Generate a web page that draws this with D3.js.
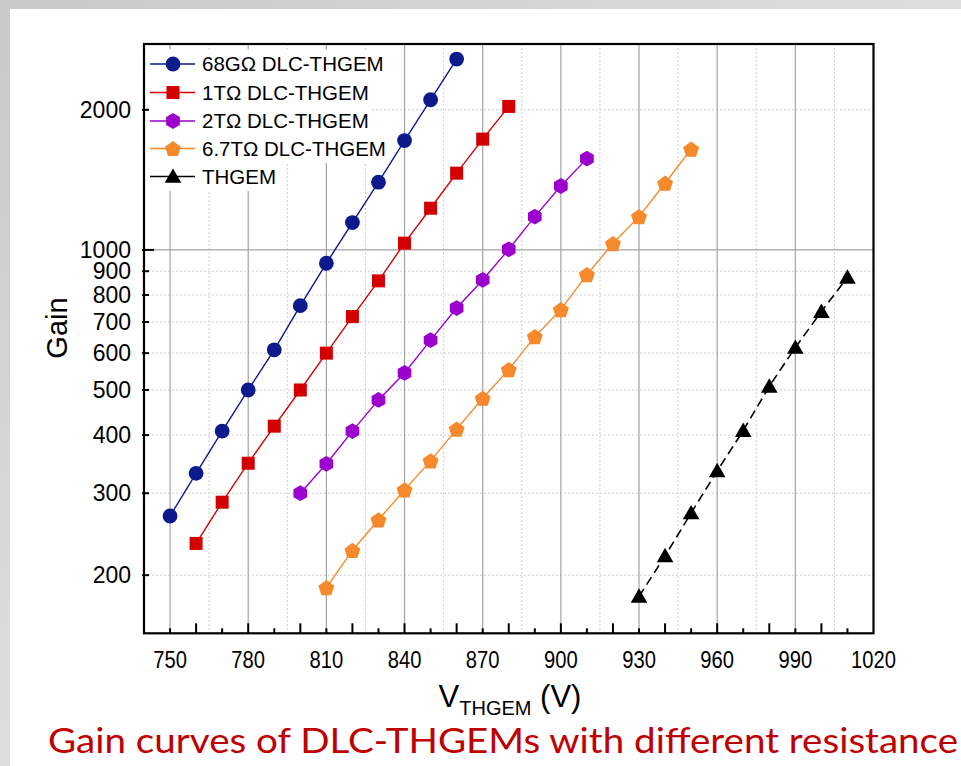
<!DOCTYPE html>
<html>
<head>
<meta charset="utf-8">
<script src="https://cdn.jsdelivr.net/npm/d3@7"></script>
<style>
  html, body { margin: 0; padding: 0; background: #ffffff; }
  svg { display: block; }
</style>
</head>
<body>
<svg id="chart" width="961" height="766"></svg>
<script>
// ---------------- data ----------------
const xTickValues = [750, 780, 810, 840, 870, 900, 930, 960, 990, 1020];
const yTickValues = [200, 300, 400, 500, 600, 700, 800, 900, 1000, 2000];

const seriesNames = ["68GΩ DLC-THGEM", "1TΩ DLC-THGEM", "2TΩ DLC-THGEM", "6.7TΩ DLC-THGEM", "THGEM"];

const volts68G = [750, 760, 770, 780, 790, 800, 810, 820, 830, 840, 850, 860];
const gain68G  = [268, 331, 408, 500, 610, 759, 936, 1145, 1398, 1718, 2102, 2571];

const volts1T = [760, 770, 780, 790, 800, 810, 820, 830, 840, 850, 860, 870, 880];
const gain1T  = [234, 287, 348, 418, 500, 600, 719, 858, 1034, 1229, 1462, 1730, 2034];

const volts2T = [800, 810, 820, 830, 840, 850, 860, 870, 880, 890, 900, 910];
const gain2T  = [300, 347, 408, 476, 544, 640, 750, 862, 1003, 1179, 1372, 1571];

const volts67T = [810, 820, 830, 840, 850, 860, 870, 880, 890, 900, 910, 920, 930, 940, 950];
const gain67T  = [188, 226, 263, 305, 352, 412, 480, 553, 651, 744, 885, 1032, 1179, 1391, 1647];

const voltsTHGEM = [930, 940, 950, 960, 970, 980, 990, 1000, 1010];
const gainTHGEM  = [180, 220, 272, 335, 409, 509, 617, 737, 873];

// ---------------- setup ----------------
const svg = d3.select("#chart");
const W = 961, H = 766;
const plot = { left: 144, right: 873.5, top: 44, bottom: 633.3 };

const x = d3.scaleLinear().domain([740, 1020]).range([plot.left, plot.right]);
const y = d3.scaleLog().domain([150, 2770]).range([plot.bottom, plot.top]);

const styles = [
  { color: "#0c1a8c", shape: "circle",   dash: null,  width: 1.4 },
  { color: "#d20000", shape: "square",   dash: null,  width: 1.4 },
  { color: "#9c00cc", shape: "hexagon",  dash: null,  width: 1.4 },
  { color: "#f5892b", shape: "pentagon", dash: null,  width: 1.4 },
  { color: "#000000", shape: "triangle", dash: "9,5", width: 1.6 }
];
const seriesData = [
  volts68G.map((v, i) => [v, gain68G[i]]),
  volts1T.map((v, i) => [v, gain1T[i]]),
  volts2T.map((v, i) => [v, gain2T[i]]),
  volts67T.map((v, i) => [v, gain67T[i]]),
  voltsTHGEM.map((v, i) => [v, gainTHGEM[i]])
];

// ---------------- background (slide) ----------------
const defs = svg.append("defs");
const grad = defs.append("linearGradient").attr("id", "bgGrad").attr("x1", 0).attr("y1", 0).attr("x2", 1).attr("y2", 1);
grad.append("stop").attr("offset", "0%").attr("stop-color", "#c9c9c9");
grad.append("stop").attr("offset", "50%").attr("stop-color", "#dedede");
grad.append("stop").attr("offset", "100%").attr("stop-color", "#cfcfcf");
svg.append("rect").attr("x", 0).attr("y", 0).attr("width", W).attr("height", H).attr("fill", "url(#bgGrad)");
svg.append("rect").attr("x", 10).attr("y", 9).attr("width", W - 10).attr("height", H - 9).attr("fill", "#ffffff");

// ---------------- grid ----------------
const grid = svg.append("g");
const minorGridX = d3.range(765, 1020, 30);
grid.selectAll("line.gxm").data(minorGridX).join("line")
  .attr("x1", d => x(d)).attr("x2", d => x(d))
  .attr("y1", plot.top).attr("y2", plot.bottom)
  .attr("stroke", "#cfcfcf").attr("stroke-width", 1).attr("stroke-dasharray", "2,2");
grid.selectAll("line.gyd").data(yTickValues.filter(d => d !== 1000)).join("line")
  .attr("x1", plot.left).attr("x2", plot.right)
  .attr("y1", d => y(d)).attr("y2", d => y(d))
  .attr("stroke", "#cfcfcf").attr("stroke-width", 1).attr("stroke-dasharray", "2,2");
grid.selectAll("line.gxM").data(xTickValues.filter(d => d < 1020)).join("line")
  .attr("x1", d => x(d)).attr("x2", d => x(d))
  .attr("y1", plot.top).attr("y2", plot.bottom)
  .attr("stroke", "#a3a3a3").attr("stroke-width", 1.2);
grid.append("line")
  .attr("x1", plot.left).attr("x2", plot.right)
  .attr("y1", y(1000)).attr("y2", y(1000))
  .attr("stroke", "#a3a3a3").attr("stroke-width", 1.2);

// ---------------- legend backgrounds (over grid) ----------------
const legend = svg.append("g");
const legendRowY = [64, 92.5, 121, 148.5, 176.5];
const legendText = [];
seriesNames.forEach((name, i) => {
  const bg = legend.append("rect").attr("fill", "#ffffff");
  const t = legend.append("text")
    .attr("x", 202).attr("y", legendRowY[i])
    .attr("dy", "0.35em")
    .attr("font-family", "Liberation Sans, Arial, sans-serif")
    .attr("font-size", 20.5)
    .attr("fill", "#000")
    .text(name);
  const w = t.node().getComputedTextLength();
  bg.attr("x", plot.left + 1).attr("y", legendRowY[i] - 14.5).attr("width", 202 + w + 3 - plot.left - 1).attr("height", 29);
  legendText.push(t);
});
legendText.forEach(t => t.raise());

// ---------------- marker helper ----------------
function polygonPath(cx, cy, r, n, rot) {
  const pts = d3.range(n).map(k => {
    const a = rot + k * 2 * Math.PI / n;
    return [cx + r * Math.cos(a), cy + r * Math.sin(a)];
  });
  return "M" + pts.map(p => p.join(",")).join("L") + "Z";
}
function drawMarker(g, shape, cx, cy, color) {
  if (shape === "circle") {
    g.append("circle").attr("cx", cx).attr("cy", cy).attr("r", 7.4).attr("fill", color);
  } else if (shape === "square") {
    g.append("rect").attr("x", cx - 6.5).attr("y", cy - 6.5).attr("width", 13).attr("height", 13).attr("fill", color);
  } else if (shape === "hexagon") {
    g.append("path").attr("d", polygonPath(cx, cy, 7.9, 6, -Math.PI / 2)).attr("fill", color);
  } else if (shape === "pentagon") {
    g.append("path").attr("d", polygonPath(cx, cy + 0.8, 8.4, 5, -Math.PI / 2)).attr("fill", color);
  } else if (shape === "triangle") {
    g.append("path").attr("d", polygonPath(cx, cy + 1.5, 9.6, 3, -Math.PI / 2)).attr("fill", color);
  }
}

// ---------------- series ----------------
const dataG = svg.append("g");
const lineGen = d3.line().x(d => x(d[0])).y(d => y(d[1]));
seriesData.forEach((pts, i) => {
  const st = styles[i];
  dataG.append("path").datum(pts)
    .attr("d", lineGen)
    .attr("fill", "none")
    .attr("stroke", st.color)
    .attr("stroke-width", st.width)
    .attr("stroke-dasharray", st.dash);
  const mg = dataG.append("g");
  pts.forEach(p => drawMarker(mg, st.shape, x(p[0]), y(p[1]), st.color));
});

// legend samples
seriesNames.forEach((name, i) => {
  const st = styles[i];
  legend.append("line")
    .attr("x1", 150).attr("x2", 195)
    .attr("y1", legendRowY[i]).attr("y2", legendRowY[i])
    .attr("stroke", st.color).attr("stroke-width", 1.4);
  drawMarker(legend, st.shape, 173, legendRowY[i], st.color);
});

// ---------------- axes ----------------
const axes = svg.append("g");
const xTickAll = d3.range(750, 1020, 10);
axes.selectAll("line.xt").data(xTickAll).join("line")
  .attr("x1", d => x(d)).attr("x2", d => x(d))
  .attr("y1", plot.bottom).attr("y2", d => plot.bottom - (d % 20 === 0 ? 10 : 5))
  .attr("stroke", "#000").attr("stroke-width", 2);
axes.selectAll("line.yt").data(yTickValues).join("line")
  .attr("x1", plot.left - 2).attr("x2", d => plot.left + (d === 1000 ? 10 : 5))
  .attr("y1", d => y(d)).attr("y2", d => y(d))
  .attr("stroke", "#000").attr("stroke-width", 2);

axes.append("rect")
  .attr("x", plot.left).attr("y", plot.top)
  .attr("width", plot.right - plot.left).attr("height", plot.bottom - plot.top)
  .attr("fill", "none").attr("stroke", "#000").attr("stroke-width", 2.2);

// tick labels
axes.selectAll("text.xl").data(xTickValues).join("text")
  .attr("transform", d => "translate(" + x(d) + ",668) scale(0.86,1)")
  .attr("text-anchor", "middle")
  .attr("font-family", "Liberation Sans, Arial, sans-serif")
  .attr("font-size", 23.5)
  .text(d => d);
axes.selectAll("text.yl").data(yTickValues).join("text")
  .attr("x", 131).attr("y", d => y(d))
  .attr("dy", "0.36em")
  .attr("text-anchor", "end")
  .attr("font-family", "Liberation Sans, Arial, sans-serif")
  .attr("font-size", 23)
  .text(d => d);

// axis titles
svg.append("text")
  .attr("transform", "translate(67," + 328 + ") rotate(-90)")
  .attr("text-anchor", "middle")
  .attr("font-family", "Liberation Sans, Arial, sans-serif")
  .attr("font-size", 29)
  .text("Gain");

const xt = svg.append("text")
  .attr("x", 510).attr("y", 707)
  .attr("text-anchor", "middle")
  .attr("font-family", "Liberation Sans, Arial, sans-serif")
  .attr("font-size", 31);
xt.append("tspan").text("V");
xt.append("tspan").attr("font-size", 20).attr("dy", 8).text("THGEM");
xt.append("tspan").attr("dy", -8).text(" (V)");

// slide title
svg.append("text")
  .attr("x", 48).attr("y", 753)
  .attr("textLength", 910).attr("lengthAdjust", "spacingAndGlyphs")
  .attr("font-family", "Lato, 'Open Sans', sans-serif")
  .attr("font-size", 35)
  .attr("fill", "#c00000")
  .text("Gain curves of DLC-THGEMs with different resistance");
</script>
</body>
</html>
